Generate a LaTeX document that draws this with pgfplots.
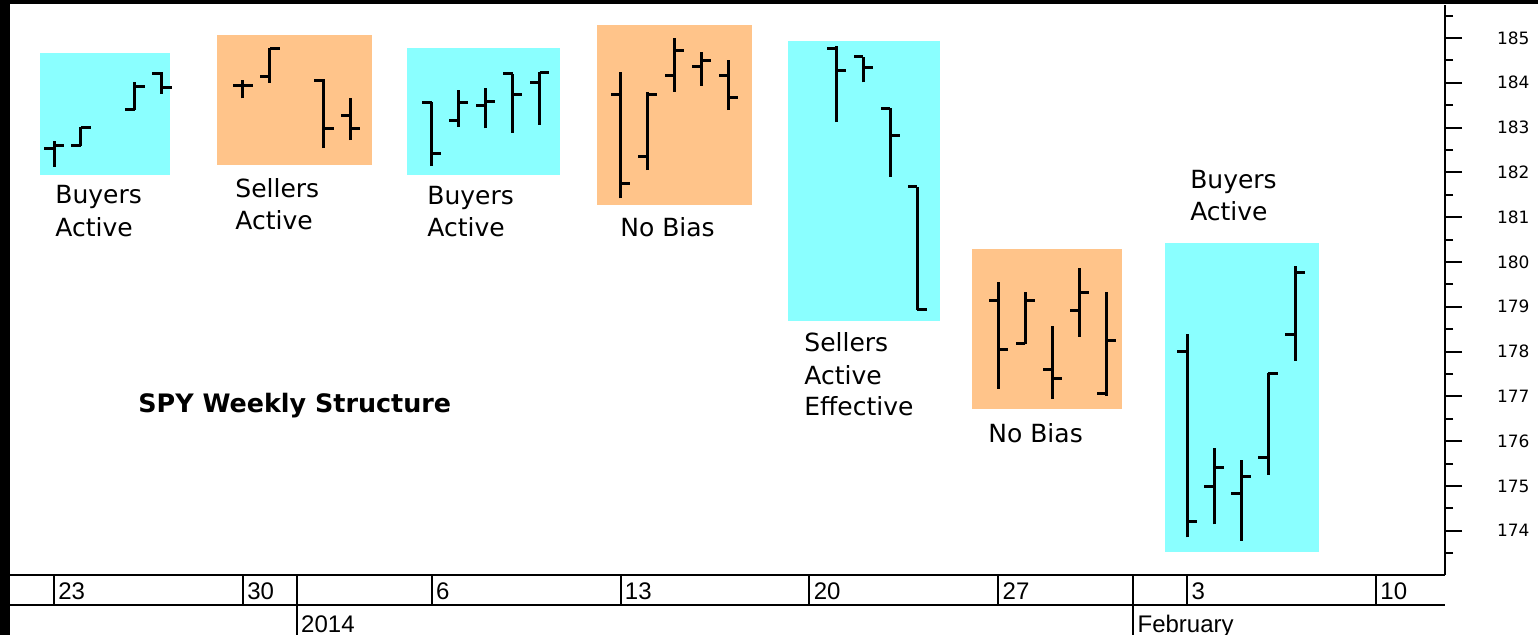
\documentclass[border=0pt]{standalone}
\usepackage{fontspec}
\setmainfont{DejaVu Sans}
\newfontfamily\datefont{Liberation Sans}
\usepackage{pgfplots}
\usepackage{pgfplotstable}
\pgfplotsset{compat=1.18}
\definecolor{buyc}{RGB}{138,255,255}
\definecolor{sellc}{RGB}{255,196,138}

% daily OHLC, d = calendar days after 23 Dec 2013
\pgfplotstableread{
d  O      H      L      C
0  182.54 182.69 182.13 182.61
1  182.61 183.02 182.59 183.00
3  183.41 184.02 183.39 183.91
4  184.21 184.23 183.75 183.90
7  183.93 184.06 183.65 183.93
8  184.14 184.77 184.00 184.77
10 184.06 184.08 182.54 182.97
11 183.28 183.65 182.72 182.97
14 183.56 183.58 182.14 182.43
15 183.15 183.84 183.02 183.56
16 183.50 183.88 182.98 183.59
17 184.20 184.20 182.89 183.73
18 184.00 184.25 183.06 184.23
21 183.73 184.25 181.42 181.76
22 182.35 183.80 182.05 183.73
23 184.17 184.99 183.80 184.71
24 184.36 184.68 183.93 184.49
25 184.17 184.51 183.39 183.68
29 184.77 184.81 183.12 184.27
30 184.58 184.58 184.01 184.35
31 183.43 183.43 181.90 182.83
32 181.68 181.68 178.93 178.95
35 179.13 179.56 177.17 178.05
36 178.19 179.34 178.17 179.13
37 177.61 178.57 176.94 177.39
38 178.91 179.87 178.33 179.31
39 177.07 179.34 177.01 178.24
42 178.01 178.39 173.85 174.20
43 174.98 175.84 174.14 175.42
44 174.84 175.58 173.78 175.21
45 175.64 177.52 175.25 177.52
46 178.37 179.91 177.80 179.76
}\bars

\begin{document}
\begin{tikzpicture}
\begin{axis}[
    scale only axis,
    width=717.5pt, height=285pt,
    xmin=-1.631, xmax=51.557,
    ymin=173.013, ymax=185.737,
    axis x line*=bottom, axis y line*=right,
    axis line style={line width=1pt},
    xtick=\empty,
    ytick={174,175,...,185},
    minor ytick={173.5,174.5,...,185.5},
    tick align=outside,
    major tick length=8.5pt, minor tick length=4pt,
    tick style={black, line width=1pt},
    yticklabel style={font=\fontsize{8.5}{10}\selectfont, anchor=west},
    yticklabel shift=14pt,
    /pgf/number format/assume math mode=true,
    clip=false,
    ohlc/.style={draw=none, no markers,
        error bars/error mark=none,
        error bars/error bar style={draw=black, solid, line width=1.5pt}},
]
% shaded boxes
\addplot[fill=buyc, draw=none] coordinates {(-0.52,181.94) (4.30,181.94) (4.30,184.67) (-0.52,184.67)} -- cycle;
\addplot[fill=sellc, draw=none] coordinates {(6.03,182.17) (11.78,182.17) (11.78,185.07) (6.03,185.07)} -- cycle;
\addplot[fill=buyc, draw=none] coordinates {(13.07,181.94) (18.75,181.94) (18.75,184.78) (13.07,184.78)} -- cycle;
\addplot[fill=sellc, draw=none] coordinates {(20.11,181.27) (25.86,181.27) (25.86,185.29) (20.11,185.29)} -- cycle;
\addplot[fill=buyc, draw=none] coordinates {(27.22,178.68) (32.84,178.68) (32.84,184.93) (27.22,184.93)} -- cycle;
\addplot[fill=sellc, draw=none] coordinates {(34.04,176.71) (39.60,176.71) (39.60,180.28) (34.04,180.28)} -- cycle;
\addplot[fill=buyc, draw=none] coordinates {(41.18,173.53) (46.89,173.53) (46.89,180.42) (41.18,180.42)} -- cycle;

% OHLC bars: high-low line, open tick left, close tick right
\addplot[ohlc, error bars/.cd, y dir=plus, y explicit]
    table[x=d, y=L, y error expr=\thisrow{H}-\thisrow{L}] {\bars};
\addplot[ohlc, error bars/.cd, x dir=minus, x fixed=0.36]
    table[x=d, y=O] {\bars};
\addplot[ohlc, error bars/.cd, x dir=plus, x fixed=0.36]
    table[x=d, y=C] {\bars};

% labels
\tikzset{lab/.style={anchor=base west, inner sep=0pt, font=\fontsize{12.5}{15}\selectfont}}
\node[lab] at (axis cs:0.037,181.295) {Buyers};
\node[lab] at (axis cs:0.037,180.558) {Active};
\node[lab] at (axis cs:6.709,181.429) {Sellers};
\node[lab] at (axis cs:6.709,180.714) {Active};
\node[lab] at (axis cs:13.825,181.272) {Buyers};
\node[lab] at (axis cs:13.825,180.558) {Active};
\node[lab] at (axis cs:20.978,180.558) {No Bias};
\node[lab] at (axis cs:27.798,177.991) {Sellers};
\node[lab] at (axis cs:27.798,177.254) {Active};
\node[lab] at (axis cs:27.798,176.563) {Effective};
\node[lab] at (axis cs:34.618,175.960) {No Bias};
\node[lab] at (axis cs:42.10,181.629) {Buyers};
\node[lab] at (axis cs:42.10,180.915) {Active};
\node[anchor=base west, inner sep=0pt, font=\bfseries\fontsize{12.7}{15}\selectfont] at (axis cs:3.113,176.629) {SPY Weekly Structure};

% frame bands
\fill[black] (axis cs:-2.0015,171.674) rectangle (axis cs:-1.631,185.848);
\fill[black] (axis cs:-2.0015,185.748) rectangle (axis cs:55.004,185.848);

% date rows
\draw[line width=1pt] (axis cs:-1.631,172.344) -- (axis cs:51.557,172.344);
\tikzset{dl/.style={anchor=base west, inner sep=0pt, font=\datefont\fontsize{12}{14}\selectfont}}
\draw[line width=1pt] (axis cs:0,173.013) -- (axis cs:0,172.344);
\draw[line width=1pt] (axis cs:7,173.013) -- (axis cs:7,172.344);
\draw[line width=1pt] (axis cs:14,173.013) -- (axis cs:14,172.344);
\draw[line width=1pt] (axis cs:21,173.013) -- (axis cs:21,172.344);
\draw[line width=1pt] (axis cs:28,173.013) -- (axis cs:28,172.344);
\draw[line width=1pt] (axis cs:35,173.013) -- (axis cs:35,172.344);
\draw[line width=1pt] (axis cs:42,173.013) -- (axis cs:42,172.344);
\draw[line width=1pt] (axis cs:49,173.013) -- (axis cs:49,172.344);
\draw[line width=1pt] (axis cs:9,173.013) -- (axis cs:9,171.674);
\draw[line width=1pt] (axis cs:40,173.013) -- (axis cs:40,171.674);
\node[dl] at (axis cs:0.148,172.455) {23};
\node[dl] at (axis cs:7.148,172.455) {30};
\node[dl] at (axis cs:14.148,172.455) {6};
\node[dl] at (axis cs:21.148,172.455) {13};
\node[dl] at (axis cs:28.148,172.455) {20};
\node[dl] at (axis cs:35.148,172.455) {27};
\node[dl] at (axis cs:42.148,172.455) {3};
\node[dl] at (axis cs:49.148,172.455) {10};
\node[dl] at (axis cs:9.148,171.719) {2014};
\node[dl] at (axis cs:40.148,171.719) {February};

\coordinate (bbSW) at (axis cs:-2.0015,171.674);
\coordinate (bbNE) at (axis cs:55.004,185.848);
\end{axis}
\pgfresetboundingbox
\path[use as bounding box] (bbSW) rectangle (bbNE);
\end{tikzpicture}
\end{document}
